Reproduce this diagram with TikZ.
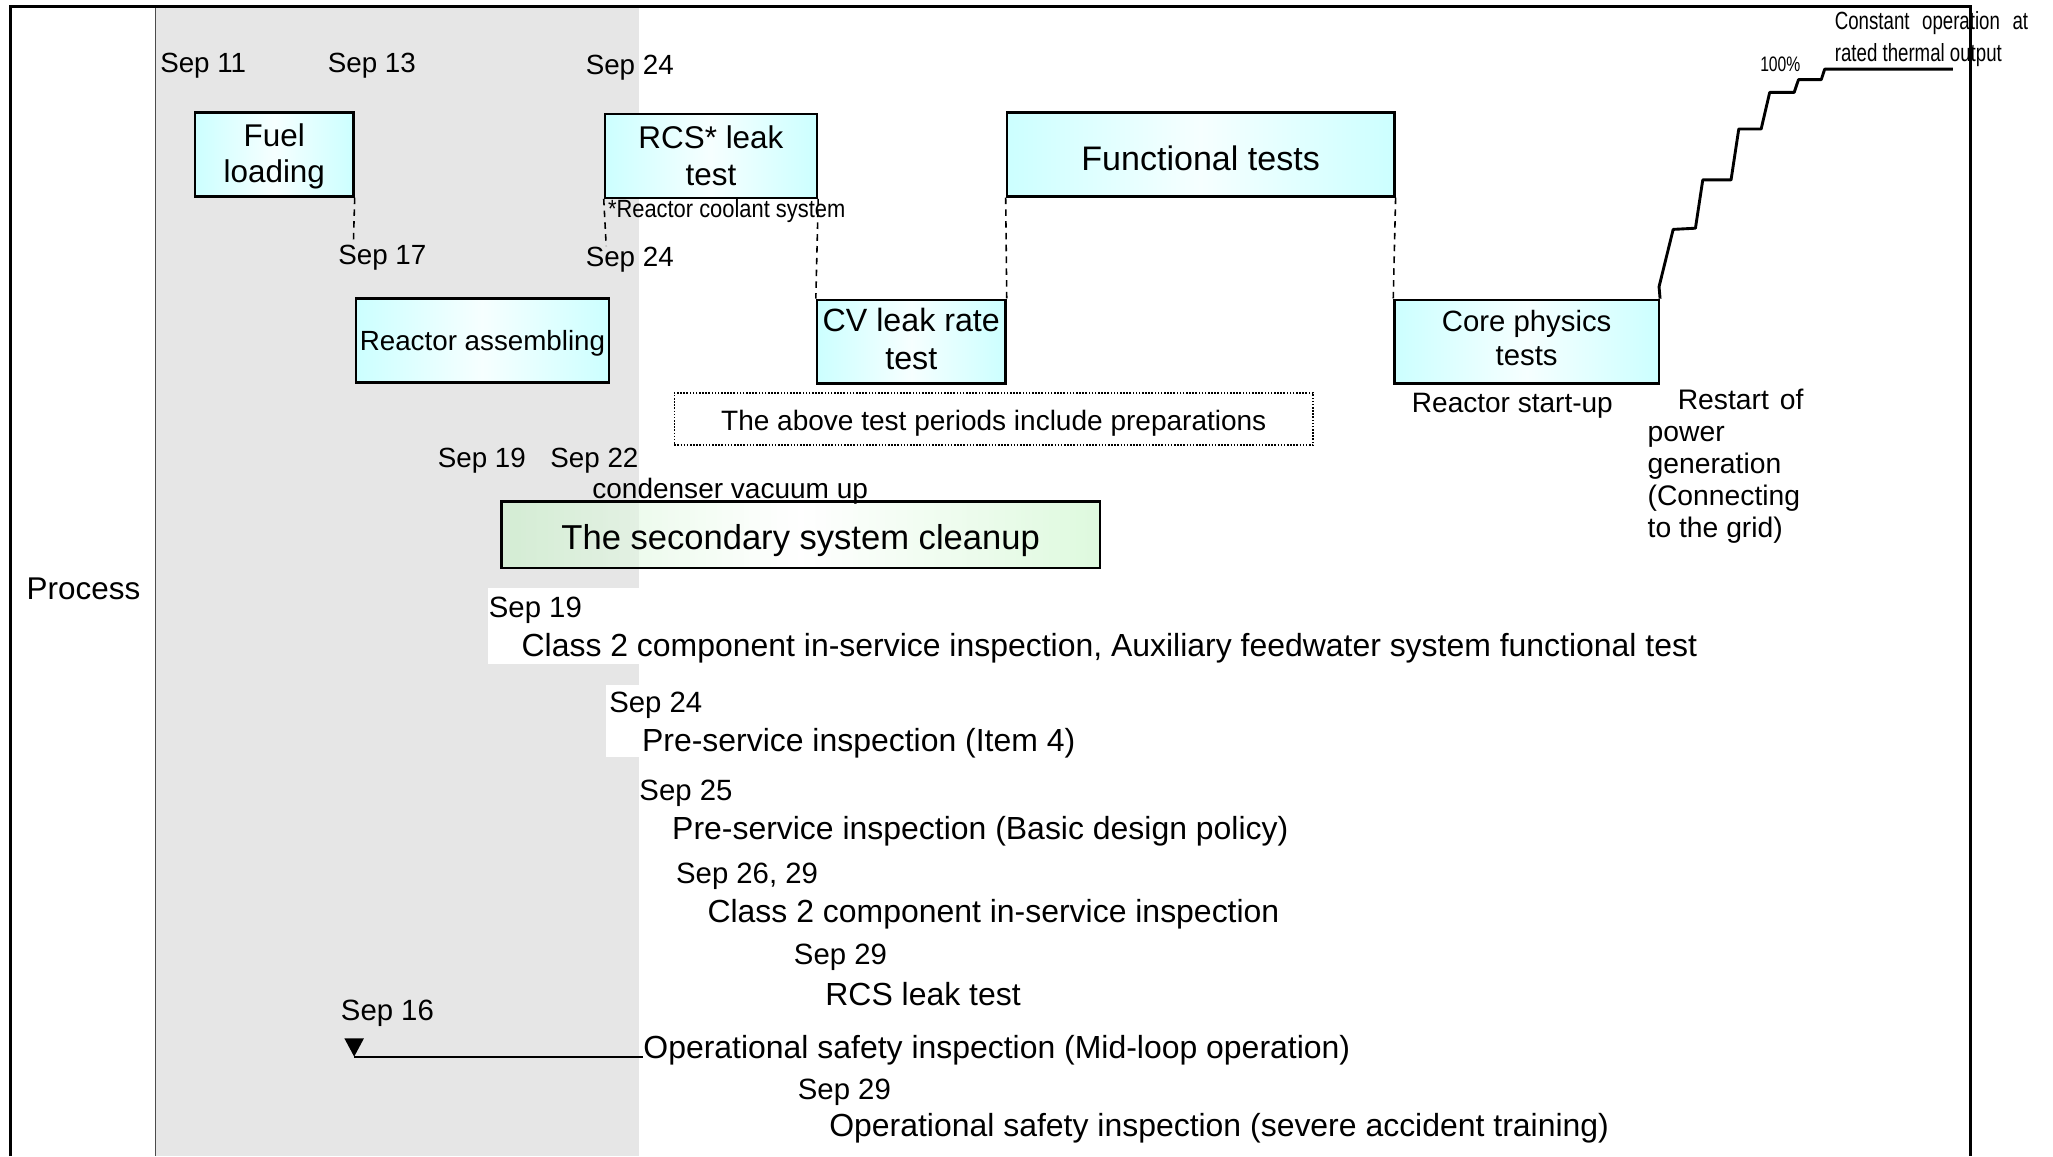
\documentclass[tikz,border=0pt]{standalone}
\usepackage{fontspec}
\setmainfont{Liberation Sans}
\newfontfamily\narrowfont[FakeStretch=0.75]{Liberation Sans}
\newfontfamily\narrowB[FakeStretch=0.88]{Liberation Sans}
\newcommand\fs[2]{\fontsize{#1}{#2}\selectfont}
\definecolor{grayA}{RGB}{230,230,230}
\definecolor{cyanL}{RGB}{204,255,255}
\definecolor{cyanM}{RGB}{246,255,255}
\definecolor{greenL}{RGB}{200,242,200}
\definecolor{greenR}{RGB}{200,245,200}
\begin{document}
\begin{tikzpicture}[x=0.5pt,y=-0.5pt,
  lbl/.style={inner sep=0pt, anchor=west, yshift=-1pt},
  datea/.style={lbl, font=\fs{10.6}{12}},
  dateb/.style={lbl, font=\fs{11.2}{13}},
  big/.style={lbl, font=\fs{12.2}{14}},
  box/.style={draw, line width=0.9pt, inner sep=0pt, left color=cyanL, right color=cyanL, middle color=cyanM, align=center},
  dsh/.style={dash pattern=on 2.5pt off 2pt, line width=0.6pt},
  pw/.style={line width=1.1pt, line join=round}]
\useasboundingbox (0,0) rectangle (1568,883);
% shaded period
\fill[grayA] (119,5) rectangle (488,883);
\draw[line width=0.5pt, black!70] (119,5) -- (119,883);
% white patches
\fill[white] (373,449) rectangle (489,507);
\fill[white] (463,523) rectangle (489,578);
% process boxes
\node[box, minimum width=60.5pt, minimum height=32pt, font=\fs{12}{14}] (fuel) at (209.5,118) {Fuel\rule{0pt}{10.25pt}\\loading};
\node[box, minimum width=81pt, minimum height=32pt, font=\fs{12}{14}] (rcs) at (543,119) {RCS* leak\\test};
\node[box, minimum width=148pt, minimum height=32pt, font=\fs{13}{15}] (func) at (917,118) {Functional tests\rule{0pt}{12.5pt}};
\node[box, minimum width=96.5pt, minimum height=32pt, font=\fs{10.6}{12}] (asm) at (368.5,260) {Reactor assembling\rule{0pt}{9.7pt}};
\node[box, minimum width=72pt, minimum height=32pt, font=\fs{12.3}{14.5}] (cv) at (696,261) {CV leak rate\\test\rule[-2pt]{0pt}{2pt}};
\node[box, minimum width=101pt, minimum height=32pt, font=\fs{11.2}{13}] (core) at (1166,261) {Core physics\\tests\rule[-3pt]{0pt}{3pt}};
\node[draw, dash pattern=on 0.6pt off 0.6pt, line width=0.6pt, inner sep=0pt, minimum width=244pt, minimum height=20pt, font=\fs{10.7}{12}] (note) at (759,320) {The above test periods include preparations\rule{0pt}{10.8pt}};
\node[draw, line width=0.9pt, inner sep=0pt, left color=greenL, right color=greenR, middle color=white, fill opacity=0.6, draw opacity=1, text opacity=1, minimum width=228.5pt, minimum height=25.5pt, font=\fs{13.2}{15}] (clean) at (611.5,408.5) {The secondary system cleanup\rule{0pt}{13.6pt}};
% dashed connectors
\coordinate (f17) at (270,183);
\coordinate (r24) at (463,188);
\draw[dsh] (fuel.south east) -- (f17);
\draw[dsh] (rcs.south west) -- (r24);
\draw[dsh] (rcs.south east) -- (cv.north west);
\draw[dsh] (func.south west) -- (cv.north east);
\draw[dsh] (func.south east) -- (core.north west);
% power ascension curve
\draw[pw] (core.north east) -- (1267.1,219) -- (1277.9,175.2) -- (1294.9,174.3) -- (1300.5,137.4) -- (1322.1,137.4) -- (1328,98.5) -- (1345.1,98.5) -- (1351.6,70.6) -- (1370.3,70.6) -- (1373.6,60.8) -- (1391,60.8) -- (1393.6,52.8) -- (1491.6,52.8);
\node[lbl, font=\narrowfont\fs{8}{9}] (p100) at (1344,47) {100\%};
\node[anchor=north west, inner sep=0pt, align=left, font=\narrowfont\fs{9.5}{12.5}] (const) at (1401,8) {\makebox[73.8pt][s]{Constant operation at}\\rated thermal output};
% labels
\node[datea] (d11) at (122,48) {Sep 11};
\node[datea] (d13) at (250,48) {Sep 13};
\node[datea] (d24a) at (447,50) {Sep 24};
\node[datea] (d17) at (258,195) {Sep 17};
\node[lbl, font=\narrowB\fs{9.5}{11}] (rcsnote) at (464,159) {*Reactor coolant system};
\node[datea] (d24b) at (447,196) {Sep 24};
\node[datea] (d19a) at (334,350) {Sep 19};
\node[datea] (d22) at (420,350) {Sep 22};
\node[lbl, font=\fs{10.7}{12}] (cvu) at (452,373) {condenser vacuum up};
\node[lbl, font=\fs{12}{14}] (proc) at (20,448) {Process};
\node[lbl, font=\fs{10.7}{12}] (rsu) at (1078,308) {Reactor start-up};
\node[anchor=north west, inner sep=0pt, align=left, font=\fs{10.8}{12.2}] (restart) at (1258,297) {\hspace*{11.5pt}\makebox[48pt][s]{Restart of}\\power\\generation\\(Connecting\\to the grid)};
% inspections
\node[dateb] (d19b) at (373,464) {Sep 19};
\node[big] (cls2a) at (398,493) {Class 2 component in-service inspection, Auxiliary feedwater system functional test};
\node[dateb] (d24c) at (465,537) {Sep 24};
\node[big] (psi4) at (490,566) {Pre-service inspection (Item 4)};
\node[dateb] (d25) at (488,604) {Sep 25};
\node[big] (psib) at (513,633) {Pre-service inspection (Basic design policy)};
\node[dateb] (d2629) at (516,667) {Sep 26, 29};
\node[big] (cls2b) at (540,696) {Class 2 component in-service inspection};
\node[dateb] (d29a) at (606,729) {Sep 29};
\node[big] (rcsl) at (630,757) {RCS leak test};
\node[dateb] (d16) at (260,772) {Sep 16};
\node[big] (opmid) at (491,800) {Operational safety inspection (Mid-loop operation)};
\node[dateb] (d29b) at (609,832) {Sep 29};
\node[big] (opsev) at (633,860) {Operational safety inspection (severe accident training)};
% Sep 16 marker
\coordinate (s16) at (270.5,807);
\fill (263,793) -- (278,793) -- (s16) -- cycle;
\draw[line width=0.8pt] (s16) -- (s16 -| opmid.west);
% frame
\draw[line width=1.3pt] (8,883) -- (8,5) -- (1505,5) -- (1505,883);
\end{tikzpicture}
\end{document}
